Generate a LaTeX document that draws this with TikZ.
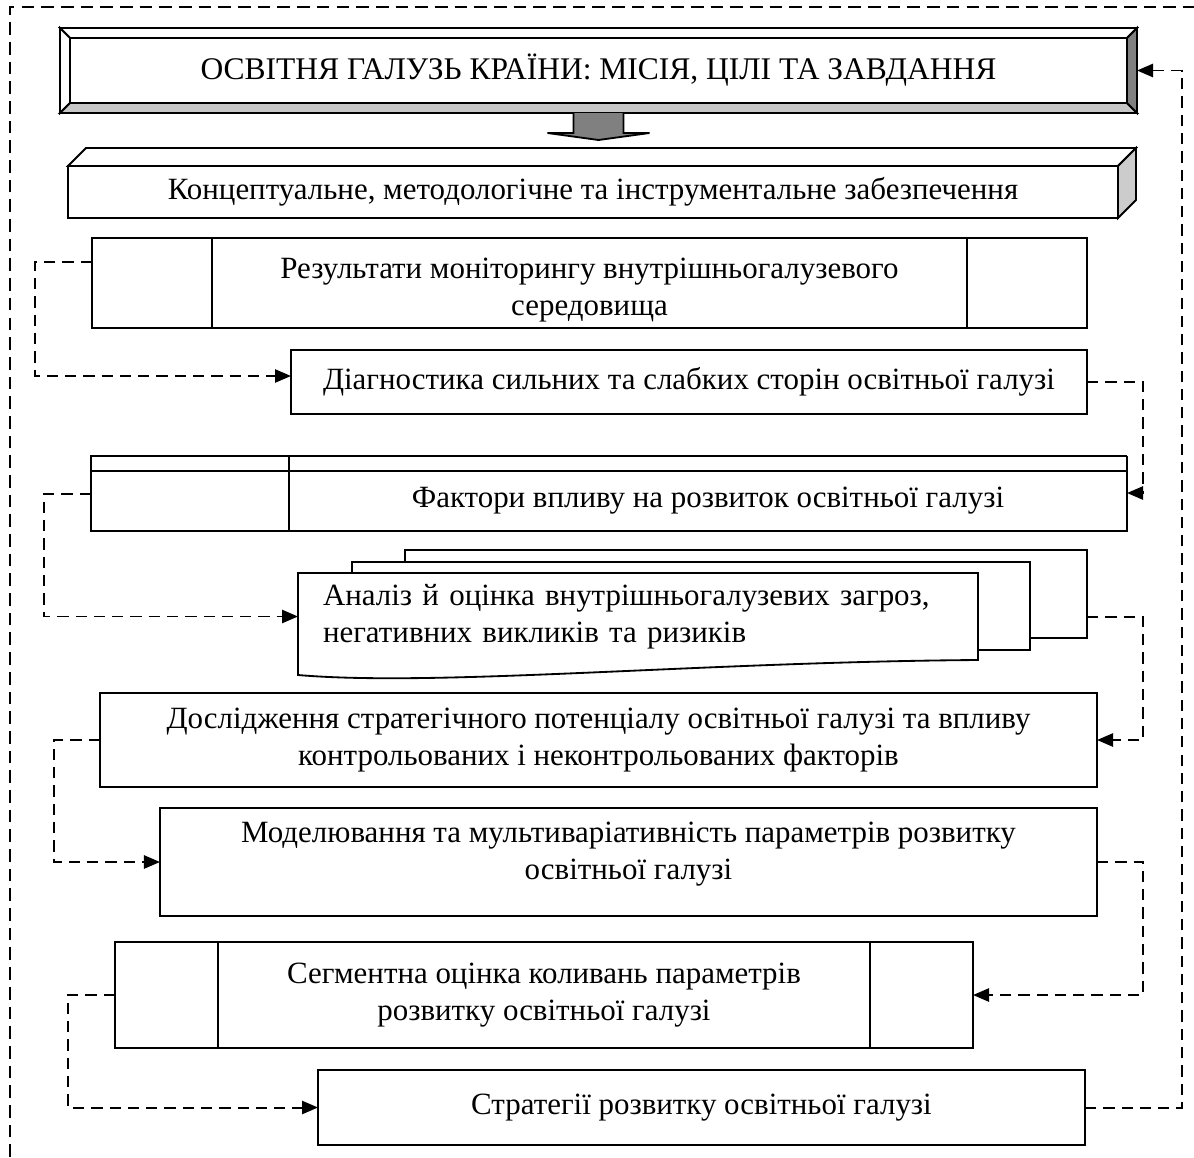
\documentclass[tikz,border=0pt]{standalone}
\usepackage{fontspec}
\setmainfont{Liberation Serif}
\usepackage{tikz}
\usetikzlibrary{calc}
\usetikzlibrary{arrows.meta}
\tikzset{
    >={Triangle[length=4mm,width=3.3mm]},
    box/.style 2 args={draw=black, line width=1.3pt, fill=white, inner sep=0pt, outer sep=0pt, align=center, minimum width=#1*0.025cm, minimum height=#2*0.025cm, font=\fontsize{22}{26.5}\selectfont},
    boxtext/.style={inner sep=0pt, align=center, font=\fontsize{22}{26.5}\selectfont},
    edge/.style={draw=black, line width=1.3pt},
    link/.style={draw=black, line width=1.4pt, dash pattern=on 8pt off 5pt},
    outerframe/.style={draw=black, line width=1.1pt, dash pattern=on 9pt off 5pt}}

\begin{document}
\begin{tikzpicture}[x=0.025cm, y=-0.025cm]
                \useasboundingbox (0,0) rectangle (1194,1157);
                \draw[outerframe] (10,1157) -- (10,7) -- (1194,7);

                    \node[box={1077}{85}, font=\fontsize{22.4}{26.5}\selectfont] (mission) at (598.5,70.5) {ОСВІТНЯ ГАЛУЗЬ КРАЇНИ: МІСІЯ, ЦІЛІ ТА ЗАВДАННЯ};
                    \draw[edge, fill=white] (mission.north west) -- (mission.north east) -- ($(mission.north east)+(-10,10)$) -- ($(mission.north west)+(10,10)$) -- cycle;
                    \draw[edge, fill=white] (mission.north west) -- ($(mission.north west)+(10,10)$) -- ($(mission.south west)+(10,-10)$) -- (mission.south west) -- cycle;
                    \draw[edge, fill=black!22] (mission.south west) -- ($(mission.south west)+(10,-10)$) -- ($(mission.south east)+(-10,-10)$) -- (mission.south east) -- cycle;
                    \draw[edge, fill=black!50] (mission.north east) -- ($(mission.north east)+(-10,10)$) -- ($(mission.south east)+(-10,-10)$) -- (mission.south east) -- cycle;
                    \draw[edge, fill=black!50] ($(mission.south)+(-25,0)$) -- ++(0,20) -- ++(-26,0) -- ($(mission.south)+(0,27)$) -- ($(mission.south)+(51,20)$) -- ++(-26,0) -- ++(0,-20);

                    \node[box={1050}{52}] (tools) at (593,192) {Концептуальне, методологічне та інструментальне забезпечення};
                    \draw[edge, fill=white] (tools.north west) -- ++(18,-18) -- ($(tools.north east)+(18,-18)$) -- (tools.north east) -- cycle;
                    \draw[edge, fill=black!20] (tools.north east) -- ++(18,-18) -- ($(tools.south east)+(18,-18)$) -- (tools.south east) -- cycle;

                    \node[box={995}{90}] (monitor) at (589.5,283) {};
                    \node[boxtext] (monitortext) at ($(monitor)+(0,7)$) {Результати моніторингу внутрішньогалузевого\\середовища};
                    \draw[edge] ($(monitor.north west)+(120,0)$) -- ($(monitor.south west)+(120,0)$);
                    \draw[edge] ($(monitor.north east)+(-120,0)$) -- ($(monitor.south east)+(-120,0)$);

                    \node[box={796}{64}] (diag) at (689,382) {Діагностика сильних та слабких сторін освітньої галузі};

                    \node[box={838}{60}] (factor) at (708,501) {Фактори впливу на розвиток освітньої галузі};
                    \coordinate (factorL) at ($(factor.west)+(-198,-7)$);
                    \draw[edge] ($(factor.north east)+(0,-15)$) -- ($(factor.north west)+(-198,-15)$) -- ($(factor.south west)+(-198,0)$) -- (factor.south west);
                    \draw[edge] ($(factor.north west)+(-198,0)$) -- (factor.north east) -- ++(0,-15);
                    \draw[edge] (factor.north west) -- ++(0,-15);

                    \node[box={682}{88}] (docback) at (746,594) {};
                    \node[box={678}{88}] (docmid) at (691,606) {};
                    \draw[edge, fill=white] ($(docmid.north west)+(-54,11)$) -- ($(docmid.north east)+(-52,11)$) -- ($(docmid.south east)+(-52,10)$) .. controls +(-280,2) and +(140,12) .. ($(docmid.south west)+(-54,25)$) -- cycle;
                    \node[box={680}{87}, draw=none, fill=none, align=left, text width=630*0.025cm] (threats) at (638,616.5) {Аналіз й оцінка внутрішньогалузевих загроз,\\негативних викликів та ризиків};

                    \node[box={997}{94}] (study) at (598.5,740) {Дослідження стратегічного потенціалу освітньої галузі та впливу\\контрольованих і неконтрольованих факторів};
                    \node[box={937}{108}] (model) at (628.5,862) {};
                    \node[boxtext] (modeltext) at ($(model)+(0,-8)$) {Моделювання та мультиваріативність параметрів розвитку\\освітньої галузі};

                    \node[box={858}{106}] (segm) at (544,995) {Сегментна оцінка коливань параметрів\\розвитку освітньої галузі};
                    \draw[edge] ($(segm.north west)+(103,0)$) -- ($(segm.south west)+(103,0)$);
                    \draw[edge] ($(segm.north east)+(-103,0)$) -- ($(segm.south east)+(-103,0)$);

                    \node[box={767}{75}] (strat) at (701.5,1107.5) {Стратегії розвитку освітньої галузі};

                    \draw[link, ->] ($(monitor.west)+(0,-21)$) -- ++(-57,0) |- ($(diag.west)+(0,-6)$);
                    \draw[link, ->] (diag.east) -- ++(56,0) |- ($(factor.east)+(0,-8)$);
                    \draw[link, ->] (factorL) -- ++(-47,0) |- (threats.west);
                    \draw[link, ->] ($(docback.east)+(0,23)$) -- ++(56,0) |- (study.east);
                    \draw[link, ->] (study.west) -- ++(-46,0) |- (model.west);
                    \draw[link, ->] (model.east) -- ++(46,0) |- (segm.east);
                    \draw[link, ->] (segm.west) -- ++(-47,0) |- (strat.west);
                    \draw[link, ->] (strat.east) -- ++(97,0) |- (mission.east);

                \end{tikzpicture}
\end{document}
